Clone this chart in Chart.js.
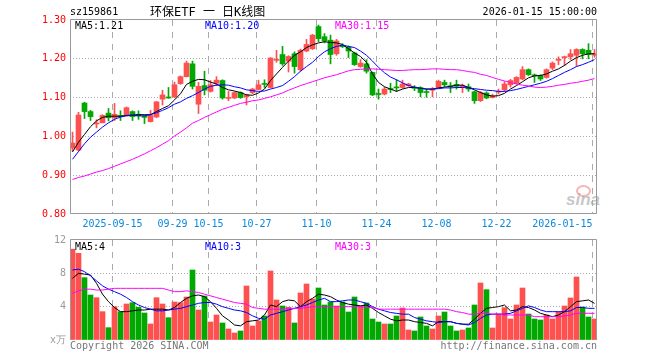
<!DOCTYPE html>
<html><head><meta charset="utf-8">
<script src="https://cdn.jsdelivr.net/npm/chart.js@4.4.1/dist/chart.umd.min.js"></script>
<style>
body{margin:0;background:#fff;}
#wrap{position:relative;width:660px;height:360px;overflow:hidden;font-family:"DejaVu Sans Mono",monospace;font-size:10px;}
canvas{position:absolute;left:0;}
.t{position:absolute;white-space:pre;line-height:12px;}
</style></head><body>
<div id="wrap">
<div style="position:absolute;left:576px;top:185px;width:11px;height:8px;border-radius:50%;border:2px solid rgba(240,120,120,0.55);"></div>
<div class="t" style="left:566px;top:190px;font:italic bold 17px 'Liberation Sans',sans-serif;color:rgba(150,150,150,0.55)">sina</div>
<canvas id="c1" width="660" height="232" style="top:0"></canvas>
<canvas id="c2" width="660" height="130" style="top:230px"></canvas>
<div class="t" style="left:70px;top:6px;color:#000">sz159861</div>
<div class="t" id="title" style="left:150px;top:5px;font-size:12px;line-height:14px;font-family:'DejaVu Sans Mono','Noto Sans CJK SC',monospace;color:#000"></div>
<div class="t" style="right:63px;top:6px;color:#000">2026-01-15 15:00:00</div>
<div class="t" id="m5" style="left:75px;top:20px;color:#000"></div>
<div class="t" id="m10" style="left:205px;top:20px;color:#0000ff"></div>
<div class="t" id="m30" style="left:335px;top:20px;color:#ff00ff"></div>
<div class="t" id="v5" style="left:75px;top:241px;color:#000"></div>
<div class="t" id="v10" style="left:205px;top:241px;color:#0000ff"></div>
<div class="t" id="v30" style="left:335px;top:241px;color:#ff00ff"></div>
<div class="t" style="left:70px;top:340px;color:#777">Copyright 2026 SINA.COM</div>
<div class="t" style="right:63px;top:340px;color:#777">http://finance.sina.com.cn</div>
</div>
<script>
const title = "环保ETF 一 日K线图";
const dates = ["2025-09-04","2025-09-05","2025-09-08","2025-09-09","2025-09-10","2025-09-11","2025-09-12","2025-09-15","2025-09-16","2025-09-17","2025-09-18","2025-09-19","2025-09-22","2025-09-23","2025-09-24","2025-09-25","2025-09-26","2025-09-29","2025-09-30","2025-10-09","2025-10-10","2025-10-13","2025-10-14","2025-10-15","2025-10-16","2025-10-17","2025-10-20","2025-10-21","2025-10-22","2025-10-23","2025-10-24","2025-10-27","2025-10-28","2025-10-29","2025-10-30","2025-10-31","2025-11-03","2025-11-04","2025-11-05","2025-11-06","2025-11-07","2025-11-10","2025-11-11","2025-11-12","2025-11-13","2025-11-14","2025-11-17","2025-11-18","2025-11-19","2025-11-20","2025-11-21","2025-11-24","2025-11-25","2025-11-26","2025-11-27","2025-11-28","2025-12-01","2025-12-02","2025-12-03","2025-12-04","2025-12-05","2025-12-08","2025-12-09","2025-12-10","2025-12-11","2025-12-12","2025-12-15","2025-12-16","2025-12-17","2025-12-18","2025-12-19","2025-12-22","2025-12-23","2025-12-24","2025-12-25","2025-12-26","2025-12-29","2025-12-30","2025-12-31","2026-01-05","2026-01-06","2026-01-07","2026-01-08","2026-01-09","2026-01-12","2026-01-13","2026-01-14","2026-01-15"];
const tickDates = ["2025-09-15","2025-09-29","2025-10-15","2025-10-27","2025-11-10","2025-11-24","2025-12-08","2025-12-22","2026-01-15"];
const tickLabels = ["2025-09-15","09-29","10-15","10-27","11-10","11-24","12-08","12-22","2026-01-15          "];
const priceTicks = [0.80,0.90,1.00,1.10,1.20,1.30];
const volTicks = [0,4,8,12];

const open  = [0.970,0.965,1.086,1.064,1.032,1.035,1.060,1.048,1.054,1.055,1.064,1.057,1.053,1.038,1.050,1.096,1.101,1.102,1.136,1.154,1.187,1.083,1.131,1.116,1.137,1.144,1.098,1.099,1.113,1.102,1.113,1.121,1.136,1.126,1.196,1.211,1.194,1.213,1.172,1.220,1.226,1.283,1.257,1.248,1.213,1.235,1.230,1.215,1.180,1.187,1.165,1.110,1.109,1.123,1.127,1.126,1.131,1.127,1.126,1.115,1.119,1.126,1.139,1.130,1.134,1.127,1.128,1.115,1.092,1.112,1.100,1.114,1.120,1.133,1.137,1.148,1.172,1.158,1.157,1.152,1.176,1.196,1.203,1.205,1.209,1.224,1.222,1.209];
const high  = [1.011,1.062,1.088,1.067,1.043,1.056,1.072,1.085,1.066,1.076,1.066,1.066,1.055,1.067,1.090,1.119,1.126,1.140,1.156,1.194,1.194,1.139,1.168,1.144,1.154,1.146,1.116,1.115,1.115,1.109,1.124,1.145,1.146,1.203,1.222,1.232,1.208,1.218,1.225,1.250,1.263,1.287,1.265,1.261,1.250,1.239,1.233,1.217,1.198,1.198,1.166,1.122,1.127,1.137,1.146,1.145,1.137,1.131,1.128,1.122,1.126,1.145,1.145,1.139,1.145,1.135,1.135,1.117,1.116,1.115,1.109,1.122,1.141,1.147,1.154,1.180,1.174,1.161,1.159,1.174,1.192,1.205,1.207,1.224,1.226,1.226,1.239,1.224];
const low   = [0.962,0.962,1.046,1.041,1.022,1.035,1.040,1.041,1.041,1.053,1.041,1.044,1.033,1.037,1.048,1.081,1.098,1.100,1.134,1.153,1.122,1.059,1.107,1.114,1.131,1.096,1.092,1.097,1.098,1.081,1.110,1.120,1.126,1.125,1.191,1.183,1.166,1.163,1.168,1.218,1.224,1.244,1.241,1.187,1.209,1.229,1.203,1.183,1.178,1.163,1.105,1.096,1.107,1.113,1.116,1.124,1.129,1.118,1.102,1.101,1.102,1.124,1.128,1.113,1.122,1.113,1.116,1.085,1.090,1.097,1.099,1.109,1.116,1.127,1.135,1.146,1.157,1.139,1.144,1.150,1.172,1.185,1.183,1.198,1.181,1.200,1.200,1.204];
const close = [0.983,1.055,1.064,1.051,1.034,1.054,1.048,1.057,1.051,1.074,1.051,1.053,1.049,1.054,1.089,1.107,1.099,1.133,1.154,1.189,1.129,1.129,1.119,1.133,1.145,1.099,1.100,1.113,1.100,1.107,1.122,1.133,1.134,1.202,1.198,1.187,1.206,1.180,1.222,1.237,1.261,1.252,1.246,1.211,1.246,1.231,1.220,1.185,1.189,1.168,1.107,1.108,1.122,1.121,1.125,1.135,1.135,1.124,1.113,1.113,1.122,1.142,1.133,1.128,1.129,1.131,1.122,1.092,1.113,1.099,1.104,1.116,1.135,1.144,1.152,1.172,1.159,1.156,1.148,1.172,1.189,1.198,1.205,1.213,1.224,1.213,1.211,1.213];
const ma5   = [0.960,0.985,1.005,1.025,1.040,1.049,1.052,1.052,1.052,1.054,1.055,1.056,1.056,1.056,1.064,1.072,1.079,1.094,1.110,1.134,1.142,1.147,1.146,1.140,1.135,1.126,1.120,1.117,1.113,1.107,1.106,1.112,1.122,1.144,1.161,1.178,1.194,1.209,1.218,1.229,1.236,1.241,1.244,1.242,1.241,1.237,1.226,1.215,1.206,1.191,1.161,1.139,1.128,1.122,1.116,1.122,1.126,1.126,1.124,1.122,1.122,1.125,1.127,1.129,1.132,1.132,1.126,1.120,1.113,1.107,1.104,1.105,1.111,1.122,1.131,1.141,1.151,1.156,1.157,1.161,1.168,1.174,1.183,1.194,1.203,1.209,1.213,1.213];
const ma10  = [0.941,0.961,0.981,0.998,1.011,1.024,1.035,1.044,1.050,1.053,1.054,1.053,1.053,1.056,1.061,1.067,1.074,1.083,1.089,1.098,1.105,1.113,1.122,1.129,1.132,1.133,1.132,1.128,1.125,1.120,1.118,1.116,1.117,1.122,1.126,1.131,1.142,1.154,1.168,1.180,1.191,1.206,1.218,1.226,1.232,1.235,1.232,1.229,1.220,1.209,1.194,1.178,1.164,1.153,1.146,1.138,1.131,1.127,1.124,1.122,1.122,1.123,1.125,1.125,1.126,1.126,1.125,1.123,1.121,1.119,1.118,1.116,1.116,1.118,1.121,1.125,1.129,1.133,1.137,1.142,1.149,1.157,1.165,1.172,1.180,1.185,1.191,1.198];
const ma30  = [0.889,0.894,0.898,0.903,0.908,0.912,0.917,0.923,0.929,0.935,0.941,0.948,0.955,0.963,0.971,0.980,0.989,1.001,1.011,1.022,1.034,1.041,1.049,1.056,1.063,1.070,1.075,1.080,1.085,1.088,1.092,1.094,1.098,1.102,1.107,1.112,1.119,1.125,1.131,1.136,1.141,1.146,1.151,1.155,1.159,1.164,1.169,1.172,1.173,1.174,1.174,1.173,1.172,1.171,1.170,1.170,1.171,1.172,1.172,1.173,1.174,1.174,1.173,1.172,1.172,1.170,1.167,1.165,1.160,1.157,1.152,1.147,1.143,1.139,1.135,1.132,1.130,1.127,1.126,1.127,1.129,1.132,1.134,1.137,1.139,1.142,1.145,1.149];
const vol   = [10.9,10.4,7.48,5.4,5.08,3.4,1.48,4.0,3.4,4.32,4.48,3.92,3.24,1.92,5.08,4.32,2.68,4.56,4.48,5.16,8.4,3.6,5.28,2.16,3.0,2.04,1.32,0.84,1.08,6.48,1.68,2.28,2.88,8.28,4.8,4.08,3.92,2.04,5.64,6.72,4.92,6.24,4.2,4.56,4.08,4.56,3.36,5.16,4.08,4.44,2.52,2.16,1.92,1.92,2.88,3.84,1.2,1.08,2.76,1.68,1.32,2.88,3.36,1.68,1.08,1.2,1.44,4.2,6.84,6.04,1.44,3.12,3.88,2.52,4.2,6.24,3.12,2.52,2.4,3.0,2.52,3.36,4.08,5.04,7.56,3.96,2.76,2.52];
const vma5  = [7.4,8.0,7.9,7.8,6.8,5.5,4.6,3.9,3.4,3.4,3.5,3.6,3.6,3.7,3.7,3.7,3.6,3.9,4.5,5.0,5.3,5.4,5.2,4.6,3.8,2.9,2.4,1.8,1.7,2.2,2.3,2.4,3.0,4.2,4.0,4.6,4.8,4.7,4.0,4.6,5.0,5.5,5.4,5.2,4.8,4.5,4.3,4.2,4.1,4.2,3.8,3.3,2.9,2.5,2.3,2.4,2.4,2.2,2.1,2.0,1.7,2.2,2.2,2.2,2.0,1.9,1.9,2.5,3.2,3.8,3.9,4.0,4.2,3.5,3.6,4.0,3.9,3.6,3.2,3.0,2.8,3.0,3.4,4.0,4.6,4.7,4.8,4.4];
const vma10 = [8.4,8.5,8.2,7.7,7.1,6.5,6.1,5.8,5.5,5.1,4.6,4.2,3.9,3.7,3.5,3.5,3.6,3.7,3.8,4.0,4.2,4.4,4.5,4.5,4.3,4.0,3.8,3.6,3.5,3.3,2.9,2.6,2.5,3.0,3.2,3.4,3.6,3.8,4.0,4.2,4.5,4.8,5.0,4.6,4.6,4.7,4.8,4.8,4.6,4.4,4.0,3.7,3.5,3.3,3.2,3.1,3.1,2.7,2.5,2.3,2.2,2.1,2.2,2.2,2.0,1.9,1.8,2.1,2.6,3.0,3.1,3.1,3.1,3.2,3.5,3.8,4.1,3.9,3.6,3.4,3.4,3.4,3.4,3.5,3.9,3.9,3.8,3.8];
const vma30 = [5.6,5.9,6.1,6.1,6.0,6.0,6.1,6.2,6.2,6.2,6.2,6.2,6.2,6.2,6.2,6.2,6.0,5.8,5.8,5.9,5.8,5.7,5.5,5.3,5.1,4.9,4.7,4.5,4.4,4.3,3.9,3.8,3.7,3.7,3.7,3.7,3.8,3.8,3.8,3.9,4.0,4.0,4.0,4.0,4.0,4.0,4.0,4.0,4.0,3.9,3.9,3.7,3.7,3.7,3.7,3.7,3.7,3.7,3.7,3.7,3.7,3.7,3.7,3.6,3.4,3.3,3.1,3.1,3.2,3.2,3.1,3.1,3.0,3.0,3.0,3.0,3.0,2.8,2.8,2.8,2.8,2.8,2.9,3.0,3.2,3.2,3.2,3.2];

const RED = '#ff5050', GREEN = '#00a800';
const n = dates.length;
const last = n - 1;
document.getElementById('title').textContent = title;
document.getElementById('m5').textContent = 'MA5:' + ma5[last].toFixed(2);
document.getElementById('m10').textContent = 'MA10:' + ma10[last].toFixed(2);
document.getElementById('m30').textContent = 'MA30:' + ma30[last].toFixed(2);
document.getElementById('v5').textContent = 'MA5:' + Math.floor(vma5[last]);
document.getElementById('v10').textContent = 'MA10:' + Math.floor(vma10[last]);
document.getElementById('v30').textContent = 'MA30:' + Math.floor(vma30[last]);

const colors = close.map((c, i) => c >= open[i] ? RED : GREEN);
const pts = arr => arr.map((v, i) => ({x: i, y: v}));
const tickIdx = tickDates.map(d => dates.indexOf(d));
const XMIN = -2.5 / 6, XMAX = XMIN + 527 / 6;
const FONT = {family: "'DejaVu Sans Mono', monospace", size: 10};

const framePlugin = {
  id: 'frame',
  afterDraw(chart, args, opts) {
    const {ctx, chartArea: a} = chart;
    const L = a.left + 0.5, R = a.right - 0.5, T = a.top - 0.5, B = a.bottom - 0.5;
    ctx.save();
    ctx.strokeStyle = '#999';
    ctx.lineWidth = 1;
    ctx.setLineDash([]);
    ctx.beginPath();
    ctx.moveTo(L, B); ctx.lineTo(L, T); ctx.lineTo(R, T); ctx.lineTo(R, B);
    if (opts.bottom) ctx.closePath();
    ctx.stroke();
    ctx.restore();
  }
};

function xScale(showLabels) {
  return {
    type: 'linear', min: XMIN, max: XMAX, offset: false,
    afterBuildTicks: s => { s.ticks = tickIdx.map(i => ({value: i - 1/3})); },
    afterFit: s => { s.height = showLabels ? 18 : 0; },
    grid: {offset: false, drawTicks: false, color: '#aaa', lineWidth: 1},
    border: {display: false, dash: [6, 6]},
    ticks: {display: showLabels, autoSkip: false, maxRotation: 0, minRotation: 0, padding: 4,
      color: '#0a88dd', font: FONT, callback: (v, i) => tickLabels[i]}
  };
}
const line = (arr, color) => ({type: 'line', data: pts(arr), borderColor: color, borderWidth: 1,
  pointRadius: 0, tension: 0, fill: false, order: 0});

new Chart(document.getElementById('c1'), {
  type: 'bar',
  data: {datasets: [
    {data: low.map((l, i) => ({x: i, y: [l, high[i]]})), backgroundColor: colors, barThickness: 1, grouped: false, order: 3},
    {data: open.map((o, i) => ({x: i, y: [o, close[i]]})), backgroundColor: colors, barThickness: 5, minBarLength: 1, grouped: false, order: 2},
    line(ma30, '#ff00ff'), line(ma10, '#0000ff'), line(ma5, '#000000')
  ]},
  options: {
    responsive: false, animation: false, events: [],
    layout: {padding: {left: 0, right: 63, top: 20, bottom: 0}},
    plugins: {legend: {display: false}, tooltip: {enabled: false}, frame: {bottom: true}},
    scales: {
      x: xScale(true),
      y: {type: 'linear', min: priceTicks[0], max: priceTicks[priceTicks.length - 1],
        afterBuildTicks: s => { s.ticks = priceTicks.map(v => ({value: v})); },
        afterFit: s => { s.width = 70; },
        grid: {drawTicks: false, lineWidth: 1,
          color: c => (c.tick && (c.tick.value === priceTicks[0] || c.tick.value === priceTicks[priceTicks.length - 1])) ? 'rgba(0,0,0,0)' : '#aaa'},
        border: {display: false, dash: [1, 2]},
        ticks: {padding: 4, color: '#ff0000', font: FONT, callback: v => v.toFixed(2)}}
    }
  },
  plugins: [framePlugin]
});

new Chart(document.getElementById('c2'), {
  type: 'bar',
  data: {datasets: [
    {data: pts(vol), backgroundColor: colors, barThickness: 5, grouped: false, order: 2},
    line(vma30, '#ff00ff'), line(vma10, '#0000ff'), line(vma5, '#000000')
  ]},
  options: {
    responsive: false, animation: false, events: [],
    layout: {padding: {left: 0, right: 63, top: 10, bottom: 20}},
    plugins: {legend: {display: false}, tooltip: {enabled: false}, frame: {bottom: false}},
    scales: {
      x: xScale(false),
      y: {type: 'linear', min: volTicks[0], max: volTicks[volTicks.length - 1],
        afterBuildTicks: s => { s.ticks = volTicks.map(v => ({value: v})); },
        afterFit: s => { s.width = 70; },
        grid: {drawTicks: false, lineWidth: 1,
          color: c => (c.tick && (c.tick.value === volTicks[0] || c.tick.value === volTicks[volTicks.length - 1])) ? 'rgba(0,0,0,0)' : '#aaa'},
        border: {display: false, dash: [1, 2]},
        ticks: {padding: 4, color: '#999', font: FONT, callback: v => v === 0 ? 'x万' : String(v)}}
    }
  },
  plugins: [framePlugin]
});
</script>
</body></html>
